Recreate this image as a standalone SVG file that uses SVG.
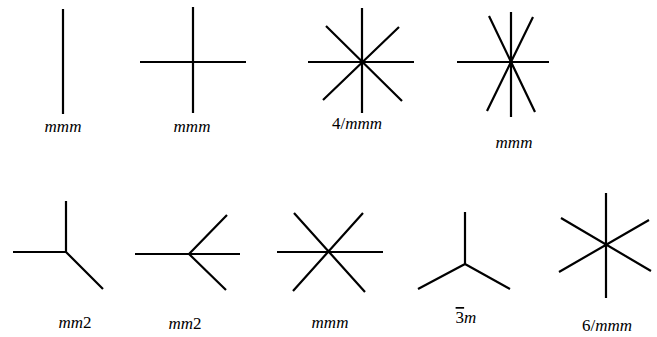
<svg xmlns="http://www.w3.org/2000/svg" width="657" height="337" viewBox="0 0 657 337">
<style>
.l{stroke:#000;stroke-width:2.2;fill:none;stroke-linecap:butt}
.t{font-family:"Liberation Serif","Times New Roman",serif;font-size:17px;fill:#000;text-anchor:middle}
.i{font-style:italic}
</style>
<rect width="657" height="337" fill="#fff"/>
<g id="n1">
<path class="l" d="M63 9V114"/>
<text class="t i" x="63" y="132">mmm</text>
</g>
<g id="n2">
<path class="l" d="M193 7V113M140 62H246"/>
<text class="t i" x="192" y="132">mmm</text>
</g>
<g id="n3">
<path class="l" d="M362 8V113M308 62H414M326 26L402 101M399 27L323 100"/>
<text class="t" x="357" y="129">4/<tspan class="i">mmm</tspan></text>
</g>
<g id="n4">
<path class="l" d="M511 12V117M457 62H549M489 16L535 112M533 17L487 111"/>
<text class="t i" x="514" y="148">mmm</text>
</g>
<g id="n5">
<path class="l" d="M66 201V252H13M66 252L103 289"/>
<text class="t" x="75" y="328"><tspan class="i">mm</tspan>2</text>
</g>
<g id="n6">
<path class="l" d="M135 254H240M189 254L227 215M189 254L226 290"/>
<text class="t" x="185" y="329"><tspan class="i">mm</tspan>2</text>
</g>
<g id="n7">
<path class="l" d="M277 252H383M294 213L365 292M363 213L293 291"/>
<text class="t i" x="330" y="328">mmm</text>
</g>
<g id="n8">
<path class="l" d="M465 212V264M465 264L418 289M465 264L510 289"/>
<text class="t" x="466" y="323"><tspan text-decoration="overline">3</tspan><tspan class="i">m</tspan></text>
</g>
<g id="n9">
<path class="l" d="M606 193V298M561 218L651 271M649 220L559 272"/>
<text class="t" x="607" y="331">6/<tspan class="i">mmm</tspan></text>
</g>
<g id="connectors"></g>
</svg>
